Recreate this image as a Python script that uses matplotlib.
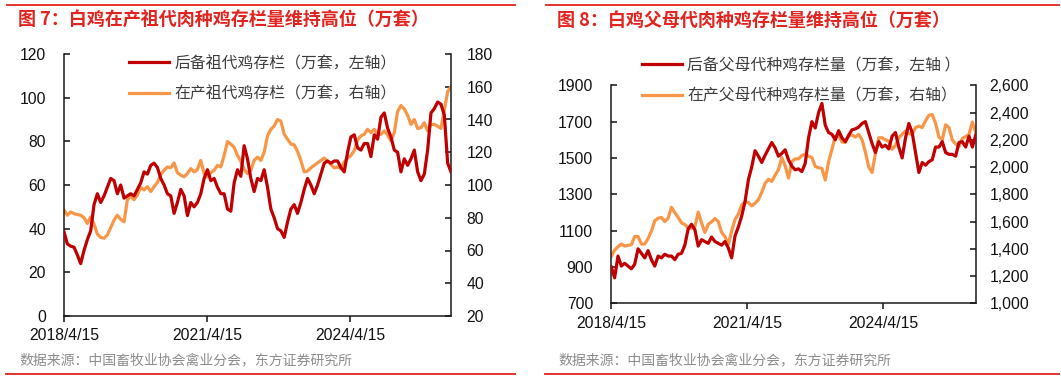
import matplotlib
matplotlib.use('Agg')
import matplotlib.pyplot as plt
import pandas as pd
from matplotlib.lines import Line2D
from matplotlib.font_manager import FontProperties

W, H = 1061, 382
fig = plt.figure(figsize=(W / 100, H / 100), dpi=100)

CJK = ['Noto Sans CJK SC', 'DejaVu Sans']
NUM = ['Liberation Sans', 'DejaVu Sans']
RED = '#C00000'
ORANGE = '#F79646'
TRED = '#E3231E'

# ---------------- data ----------------
gp_start, gp_end = '2018-04-15', '2026-05-26'
gp_reserve = [38.6, 33, 32, 31.5, 28, 24, 30, 35, 39, 51,
              56, 52, 55, 59, 63, 62, 56, 60, 54, 55,
              56, 55, 58, 61, 66, 65, 69, 70, 68, 63,
              60, 56, 55, 47, 52, 58, 55, 46, 52, 50,
              52, 56, 63, 67, 62, 63, 59, 56, 56, 49,
              48, 61, 67, 64, 78, 72, 63, 57, 63, 62,
              67, 59, 49, 45, 40, 39, 36, 43, 49, 51,
              47, 52, 58, 63, 60, 56, 60, 65, 70, 71,
              70, 71, 71, 68, 66, 75, 82, 83, 77, 76,
              79, 79, 73, 83, 81, 91, 93, 86, 82, 76,
              75, 66, 72, 69, 72, 76, 66, 62, 65, 76,
              93, 95, 98, 97, 92, 70, 66]
gp_producing = [84.7, 81.5, 83.5, 82.5, 82, 81.5, 80, 76.5, 80.5, 76,
                70, 68, 67.5, 69.5, 74, 78.5, 81.5, 79, 77.5, 91,
                93, 91, 94, 98.5, 97, 99, 96, 99, 101.5, 106.5,
                109, 111, 110.5, 113.5, 107.5, 106, 105, 107, 110, 108,
                109.5, 115, 107, 105, 107.5, 109, 112, 111, 118, 126.5,
                125, 123, 118, 114.5, 109.5, 107, 109, 115, 117, 115,
                120, 130, 134, 136, 140, 139, 131, 128, 125, 124.5,
                120.5, 115, 108, 108.5, 110.5, 112, 113.5, 115, 116.5, 114.5,
                112.5, 110.5, 111, 110, 114, 116.5, 118, 121, 127.5, 130,
                131, 134, 132, 134, 131, 131, 133, 130.5, 127, 132,
                145, 148.5, 146.5, 142.5, 137, 140, 134.5, 135, 138, 133,
                137, 137, 136, 134.5, 145.8, 157, 160]

pp_start, pp_end = '2018-04-15', '2026-05-01'
pp_reserve = [900, 840, 960, 905, 920, 905, 890, 915, 1000, 975,
              950, 990, 940, 905, 960, 950, 970, 960, 960, 940,
              970, 975, 1020, 1110, 1135, 1105, 1015, 1050, 1040, 1030,
              1065, 1040, 1030, 1020, 1040, 1005, 950, 1070, 1120, 1180,
              1260, 1380, 1450, 1540, 1510, 1475, 1515, 1550, 1585, 1555,
              1510, 1525, 1545, 1490, 1455, 1435, 1440, 1425, 1470, 1610,
              1700, 1665, 1750, 1800, 1680, 1640, 1630, 1600, 1650, 1610,
              1590, 1625, 1655, 1660, 1670, 1690, 1700, 1640, 1580, 1530,
              1590, 1560, 1570, 1550, 1620, 1640, 1560, 1500, 1610, 1690,
              1640, 1530, 1420, 1475, 1460, 1480, 1490, 1560, 1560, 1590,
              1530, 1520, 1520, 1510, 1585, 1590, 1560, 1620, 1560, 1625]
pp_producing = [1345, 1390, 1415, 1435, 1420, 1425, 1430, 1490, 1490, 1435,
                1435, 1475, 1530, 1605, 1625, 1630, 1600, 1625, 1705, 1665,
                1630, 1590, 1578, 1552, 1550, 1562, 1670, 1590, 1520, 1580,
                1598, 1622, 1600, 1520, 1490, 1430, 1530, 1615, 1655, 1720,
                1745, 1740, 1715, 1734, 1760, 1815, 1880, 1910, 1895, 1940,
                1980, 2070, 2010, 1920, 2040, 2060, 2060, 2085, 2095, 2080,
                2070, 2005, 1995, 1990, 1905, 2040, 2130, 2225, 2230, 2185,
                2180, 2230, 2235, 2220, 2240, 2200, 2110, 2000, 1960, 2100,
                2215, 2215, 2200, 2190, 2130, 2160, 2215, 2240, 2265, 2245,
                2240, 2290, 2300, 2290, 2340, 2380, 2385, 2320, 2220, 2200,
                2310, 2290, 2199, 2170, 2150, 2210, 2223, 2240, 2330, 2255]

xtick_dates = ['2018-04-15', '2021-04-15', '2024-04-15']
xtick_labels = ['2018/4/15', '2021/4/15', '2024/4/15']

gp_left_ticks = [0, 20, 40, 60, 80, 100, 120]
gp_right_ticks = [20, 40, 60, 80, 100, 120, 140, 160, 180]
pp_left_ticks = [700, 900, 1100, 1300, 1500, 1700, 1900]
pp_right_ticks = [1000, 1200, 1400, 1600, 1800, 2000, 2200, 2400, 2600]
pp_right_labels = ['1,000', '1,200', '1,400', '1,600', '1,800', '2,000',
                   '2,200', '2,400', '2,600']

gp_legend = ['后备祖代鸡存栏（万套，左轴）', '在产祖代鸡存栏（万套，右轴）']
pp_legend = ['后备父母代种鸡存栏量（万套，左轴 ）', '在产父母代种鸡存栏量（万套，右轴）']
titles = ['图 7：白鸡在产祖代肉种鸡存栏量维持高位（万套）',
          '图 8：白鸡父母代肉种鸡存栏量维持高位（万套）']
source = '数据来源：中国畜牧业协会禽业分会，东方证券研究所'


def fx(px):
    return px / W


def fy(py):
    return 1 - py / H


def panel(rect, start, end, lvals, rvals, lticks, llabels, rticks, rlabels,
          leg_labels, leg_pos, lpad, rpad):
    dl = pd.date_range(start, end, periods=len(lvals))
    dr = pd.date_range(start, end, periods=len(rvals))
    ax = fig.add_axes(rect)
    ax2 = ax.twinx()
    l1, = ax.plot(dl, lvals, color=RED, lw=2.3, solid_joinstyle='round', zorder=3)
    l2, = ax2.plot(dr, rvals, color=ORANGE, lw=2.3, solid_joinstyle='round')
    ax.set_zorder(ax2.get_zorder() + 1)
    ax.patch.set_visible(False)

    ax.set_xlim(dl[0], dl[-1])
    ax.set_ylim(lticks[0], lticks[-1])
    ax2.set_ylim(rticks[0], rticks[-1])
    ax.set_yticks(lticks)
    ax.set_yticklabels(llabels)
    ax2.set_yticks(rticks)
    ax2.set_yticklabels(rlabels)
    ax.set_xticks(pd.to_datetime(xtick_dates))
    ax.set_xticklabels(xtick_labels)

    for a in (ax, ax2):
        a.spines['top'].set_visible(False)
        for s in a.spines.values():
            s.set_color('#1a1a1a')
            s.set_linewidth(1.1)
    ax.spines['right'].set_visible(False)
    ax2.spines['left'].set_visible(False)
    ax2.spines['bottom'].set_visible(False)

    ax.tick_params(axis='y', direction='in', length=4, width=1.1, pad=lpad,
                   labelsize=11.3, colors='#111111')
    ax2.tick_params(axis='y', direction='in', length=4, width=1.1, pad=rpad,
                    labelsize=11.3, colors='#111111')
    ax.tick_params(axis='x', direction='out', length=4, width=1.1, pad=5,
                   labelsize=11.3, colors='#111111')
    for lab in ax.get_xticklabels() + ax.get_yticklabels() + ax2.get_yticklabels():
        lab.set_fontfamily(NUM)

    fig.legend([l1, l2], leg_labels, loc='upper left',
               bbox_to_anchor=(fx(leg_pos[0]), fy(leg_pos[1])),
               frameon=False, borderpad=0, borderaxespad=0,
               handlelength=2.5, handletextpad=0.35, labelspacing=0.85,
               prop=FontProperties(family=CJK, size=11.4), labelcolor='#3c3c3c')
    return ax, ax2


panel([fx(64), 1 - 316 / H, 387 / W, 262 / H], gp_start, gp_end,
      gp_reserve, gp_producing, gp_left_ticks, [str(v) for v in gp_left_ticks],
      gp_right_ticks, [str(v) for v in gp_right_ticks], gp_legend,
      (129, 55), 13, 11)

panel([fx(611.3), 1 - 303.3 / H, 364.4 / W, 218 / H], pp_start, pp_end,
      pp_reserve, pp_producing, pp_left_ticks, [str(v) for v in pp_left_ticks],
      pp_right_ticks, pp_right_labels, pp_legend,
      (642, 57), 13, 10)

# titles, rules and sources
for i, x0 in enumerate([0, 539]):
    fig.add_artist(Line2D([fx(x0 + 7), fx(x0 + 515 if i == 0 else W - 2)],
                          [fy(5), fy(5)], color=TRED, lw=1.3))
    fig.text(fx(x0 + 18), fy(20.5), titles[i], color=TRED, fontsize=13,
             fontweight='bold', family=CJK, va='center', ha='left')
    fig.add_artist(Line2D([fx(x0 + 6), fx(x0 + 515 if i == 0 else W - 2)],
                          [fy(374), fy(374)], color=TRED, lw=1.3))
    fig.text(fx(x0 + 19), fy(360), source, color='#8c8c8c', fontsize=10,
             family=CJK, va='center', ha='left')

fig.savefig('out.png', dpi=100, facecolor='white')
